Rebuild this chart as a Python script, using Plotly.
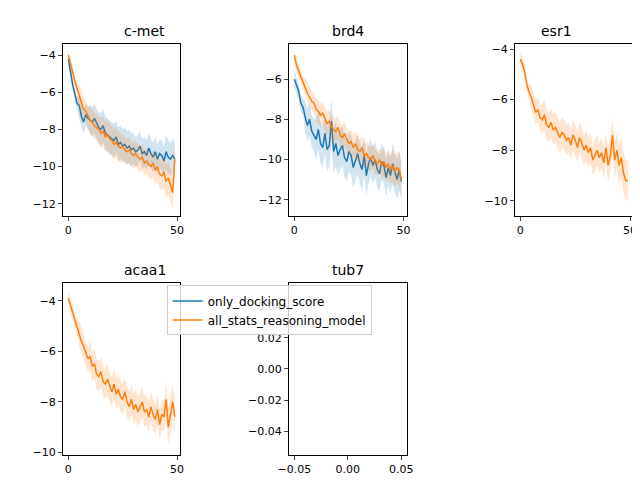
import numpy as np
import plotly.graph_objects as go

steps = list(range(50))

cmet_dock = [-4.2,-5.0,-5.6,-6.1,-6.6,-6.7,-7.3,-7.6,-7.2,-7.4,-7.5,-7.6,-7.4,-7.7,-7.9,-8.0,-7.8,-8.2,-8.3,-8.4,
             -8.5,-8.6,-8.4,-8.8,-8.7,-8.9,-8.8,-9.0,-8.9,-9.1,-9.0,-9.2,-9.1,-8.9,-9.3,-9.2,-9.4,-9.0,-9.3,-9.5,
             -9.2,-9.6,-9.3,-9.4,-9.7,-9.2,-9.5,-9.6,-9.4,-9.6]
cmet_all = [-4.0,-4.5,-5.0,-5.4,-5.8,-6.2,-6.5,-6.9,-7.0,-7.3,-7.5,-7.6,-7.8,-7.9,-8.0,-8.2,-8.1,-8.4,-8.3,-8.5,
            -8.6,-8.8,-8.7,-8.9,-9.0,-8.9,-9.1,-9.2,-9.1,-9.3,-9.4,-9.3,-9.5,-9.6,-9.5,-9.8,-9.7,-9.9,-10.0,-9.8,
            -10.2,-10.0,-10.4,-10.5,-10.3,-10.8,-10.6,-11.0,-11.4,-9.6]
brd4_dock = [-6.0,-6.3,-6.6,-7.2,-7.4,-7.9,-8.3,-8.0,-8.6,-8.8,-9.0,-8.5,-9.2,-9.4,-8.7,-9.5,-9.3,-8.1,-9.6,-9.2,
             -9.8,-9.5,-9.3,-9.9,-10.1,-9.6,-9.8,-10.4,-10.0,-9.7,-10.2,-10.5,-9.8,-10.8,-10.2,-9.9,-10.3,-10.0,-10.5,-10.7,
             -10.1,-10.3,-10.9,-10.4,-10.8,-10.2,-10.6,-11.0,-10.5,-11.1]
brd4_all = [-4.8,-5.3,-5.6,-5.9,-6.2,-6.4,-6.7,-6.9,-7.1,-7.2,-7.5,-7.6,-7.8,-7.7,-8.0,-8.2,-8.1,-8.4,-8.5,-8.6,
            -8.4,-8.8,-8.9,-8.7,-9.0,-9.2,-9.1,-9.4,-9.2,-9.5,-9.6,-9.4,-9.8,-9.7,-9.9,-10.0,-9.8,-10.1,-10.2,-10.0,
            -10.3,-10.1,-10.4,-10.2,-10.5,-10.3,-10.6,-10.4,-10.5,-11.0]
esr1_all = [-4.4,-4.6,-4.9,-5.4,-5.7,-5.9,-6.2,-6.5,-6.4,-6.7,-6.8,-6.6,-7.0,-7.1,-6.9,-7.2,-7.1,-7.3,-7.5,-7.3,
            -7.4,-7.6,-7.5,-7.8,-7.4,-7.6,-7.9,-7.5,-7.7,-8.0,-7.8,-8.1,-7.9,-8.4,-8.2,-8.0,-8.3,-8.1,-8.5,-7.9,
            -8.6,-8.2,-7.4,-8.4,-8.0,-8.6,-8.3,-8.9,-9.2,-9.2]
acaa1_all = [-3.9,-4.2,-4.4,-4.8,-5.1,-5.3,-5.6,-5.8,-6.1,-6.3,-6.2,-6.6,-6.5,-6.9,-7.0,-6.8,-7.2,-7.3,-7.1,-7.4,
             -7.6,-7.3,-7.7,-7.5,-7.8,-7.9,-7.6,-8.0,-8.2,-7.9,-8.3,-8.1,-8.4,-8.2,-8.0,-8.4,-8.3,-8.6,-8.2,-8.5,
             -8.7,-8.3,-8.9,-8.5,-8.6,-7.9,-9.0,-8.5,-8.0,-8.6]

# band half-widths, one value per block of 5 steps
cmet_dock_sd = [0.3, 0.6, 0.8, 0.9, 0.9, 0.9, 0.8, 0.8, 0.8, 0.9]
cmet_all_sd = [0.3, 0.6, 0.7, 0.8, 0.8, 0.7, 0.7, 0.7, 0.8, 0.9]
brd4_dock_sd = [0.4, 0.8, 1.0, 1.1, 1.0, 1.0, 1.0, 0.9, 0.9, 1.0]
brd4_all_sd = [0.3, 0.5, 0.6, 0.6, 0.6, 0.6, 0.6, 0.6, 0.7, 0.8]
esr1_all_sd = [0.3, 0.5, 0.6, 0.6, 0.6, 0.6, 0.6, 0.6, 0.7, 0.8]
acaa1_all_sd = [0.3, 0.5, 0.6, 0.6, 0.6, 0.6, 0.6, 0.6, 0.6, 0.7]

BLUE = "#1f77b4"
ORANGE = "#ff7f0e"
BLUE_F = "rgba(31,119,180,0.2)"
ORANGE_F = "rgba(255,127,14,0.2)"

panels = [
    ("c-met", [0.086, 0.269], [0.567, 0.925], [-12.65, -3.4], [-12, -10, -8, -6, -4],
     [(cmet_dock, cmet_dock_sd, BLUE, BLUE_F, "only_docking_score"), (cmet_all, cmet_all_sd, ORANGE, ORANGE_F, "all_stats_reasoning_model")]),
    ("brd4", [0.439, 0.623], [0.567, 0.925], [-12.8, -4.25], [-12, -10, -8, -6],
     [(brd4_dock, brd4_dock_sd, BLUE, BLUE_F, None), (brd4_all, brd4_all_sd, ORANGE, ORANGE_F, None)]),
    ("esr1", [0.792, 0.977], [0.567, 0.925], [-10.6, -3.8], [-10, -8, -6, -4],
     [(esr1_all, esr1_all_sd, ORANGE, ORANGE_F, None)]),
    ("acaa1", [0.086, 0.269], [0.069, 0.427], [-10.1, -3.3], [-10, -8, -6, -4],
     [(acaa1_all, acaa1_all_sd, ORANGE, ORANGE_F, None)]),
]

fig = go.Figure()
axstyle = dict(showline=True, linecolor="black", mirror=True, ticks="outside", ticklen=4,
               showgrid=False, zeroline=False, automargin=False, tickfont=dict(size=11, color="black"))

for i, (name, xd, yd, yr, yt, series) in enumerate(panels, start=1):
    xa, ya = f"x{i}", f"y{i}"
    for vals, sd, col, fcol, label in series:
        v = np.array(vals)
        s = np.repeat(sd, 5)
        fig.add_trace(go.Scatter(x=steps, y=v + s, xaxis=xa, yaxis=ya, mode="lines",
                                 line=dict(width=0), showlegend=False, hoverinfo="skip"))
        fig.add_trace(go.Scatter(x=steps, y=v - s, xaxis=xa, yaxis=ya, mode="lines", fill="tonexty",
                                 fillcolor=fcol, line=dict(width=0), showlegend=False, hoverinfo="skip"))
        fig.add_trace(go.Scatter(x=steps, y=vals, xaxis=xa, yaxis=ya, mode="lines",
                                 line=dict(color=col, width=1.5), name=label or "",
                                 showlegend=label is not None))
    sfx = "" if i == 1 else str(i)
    fig.layout["xaxis" + sfx] = dict(domain=xd, anchor=ya, range=[-2.45, 51.45], tickvals=[0, 50], **axstyle)
    fig.layout["yaxis" + sfx] = dict(domain=yd, anchor=xa, range=yr, tickvals=yt,
                                     ticktext=[f"\u2212{abs(t)}" for t in yt], **axstyle)
    fig.add_annotation(text=name, x=(xd[0] + xd[1]) / 2, y=yd[1], xref="paper", yref="paper",
                       yanchor="bottom", showarrow=False, yshift=3, font=dict(size=14, color="black"))

# empty tub7 panel
tub_t = [-0.04, -0.02, 0.0, 0.02, 0.04]
fig.add_trace(go.Scatter(x=[], y=[], xaxis="x5", yaxis="y5", showlegend=False))
fig.layout["xaxis5"] = dict(domain=[0.439, 0.623], anchor="y5", range=[-0.055, 0.055],
                            tickvals=[-0.05, 0.0, 0.05], ticktext=["\u22120.05", "0.00", "0.05"], **axstyle)
fig.layout["yaxis5"] = dict(domain=[0.069, 0.427], anchor="x5", range=[-0.055, 0.055], tickvals=tub_t,
                            ticktext=["\u22120.04", "\u22120.02", "0.00", "0.02", "0.04"], **axstyle)
fig.add_annotation(text="tub7", x=0.531, y=0.427, xref="paper", yref="paper", yanchor="bottom",
                   showarrow=False, yshift=3, font=dict(size=14, color="black"))

fig.update_layout(
    width=640, height=480, margin=dict(l=0, r=0, t=0, b=0),
    plot_bgcolor="white", paper_bgcolor="white",
    font=dict(family="DejaVu Sans", color="black"),
    legend=dict(x=0.248, y=0.422, xanchor="left", yanchor="top", bgcolor="rgba(255,255,255,0.8)",
                traceorder="normal", bordercolor="#cccccc", borderwidth=1, font=dict(size=12),
                tracegroupgap=0, itemwidth=30),
)
fig.write_html("out.html")
